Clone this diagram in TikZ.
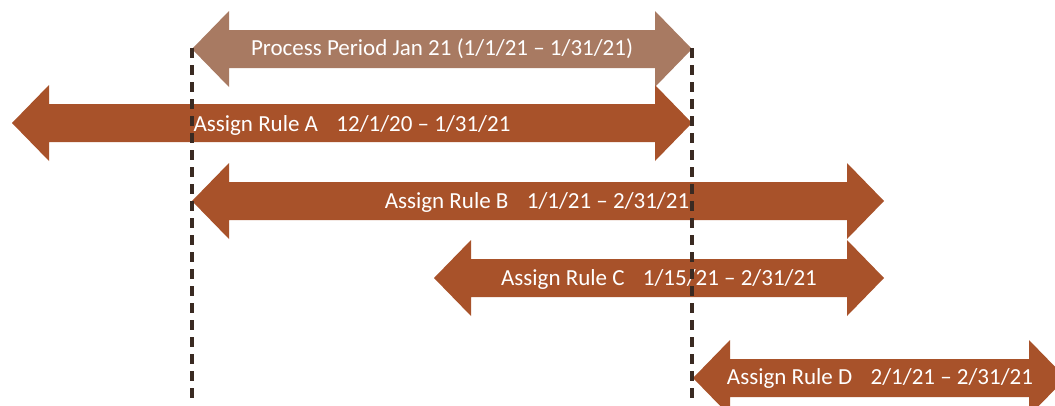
\documentclass[tikz,border=0pt]{standalone}
\usepackage{fontspec}
\setmainfont{Carlito}
\definecolor{procol}{HTML}{A87A62}
\definecolor{rulecol}{HTML}{A8522A}
\definecolor{dashcol}{HTML}{3A2A22}
\newcommand{\mydarrow}[4]{%
  \fill[#4] (#1,#3) -- (#1+37,#3-38) -- (#1+37,#3-19) -- (#2-37,#3-19) -- (#2-37,#3-38)
    -- (#2,#3) -- (#2-37,#3+38) -- (#2-37,#3+19) -- (#1+37,#3+19) -- (#1+37,#3+38) -- cycle;}
\begin{document}
\begin{tikzpicture}[x=1pt,y=-1pt,
  lbl/.style={text=white,font=\fontsize{23}{27}\selectfont,inner sep=0pt,anchor=center},
  vdash/.style={draw=dashcol,line width=3.2pt,dash pattern=on 10pt off 7pt}]
\useasboundingbox (0,0) rectangle (1055,405);
\mydarrow{192}{692}{49}{procol}
\mydarrow{12}{692}{123}{rulecol}
\mydarrow{192}{884}{201}{rulecol}
\mydarrow{434}{884}{278}{rulecol}
\mydarrow{693}{1066}{378}{rulecol}
\node[lbl] (tp) at (442,49) {Process Period Jan 21 (1/1/21 – 1/31/21)};
\node[lbl] (ta) at (352,125) {Assign Rule A\hspace{0.8em}12/1/20 – 1/31/21};
\node[lbl] (tb) at (537,202) {Assign Rule B\hspace{0.8em}1/1/21 – 2/31/21};
\node[lbl] (tc) at (659,279) {Assign Rule C\hspace{0.8em}1/15/21 – 2/31/21};
\node[lbl] (td) at (880,378) {Assign Rule D\hspace{0.8em}2/1/21 – 2/31/21};
\coordinate (l1) at (192,48);
\coordinate (l2) at (192,405);
\coordinate (r1) at (692,48);
\coordinate (r2) at (692,405);
\draw[vdash] (l1) -- (l2);
\draw[vdash] (r1) -- (r2);
\end{tikzpicture}
\end{document}
